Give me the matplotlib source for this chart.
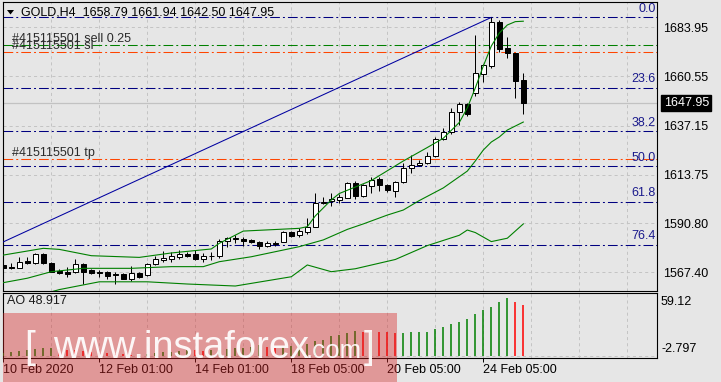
import matplotlib
matplotlib.use('Agg')
import matplotlib.pyplot as plt
import numpy as np
from matplotlib.patches import Rectangle, Polygon
from matplotlib.transforms import blended_transform_factory

plt.rcParams['font.family'] = ['Liberation Sans', 'DejaVu Sans']
plt.rcParams['lines.scale_dashes'] = False

# ---------------- data ----------------
symbol_header = "GOLD,H4  1658.79 1661.94 1642.50 1647.95"

opens = [1570.9, 1570.1, 1569.6, 1572.9, 1571.7, 1576.0, 1571.7, 1568.0, 1567.7, 1567.4,
         1571.2, 1568.3, 1567.6, 1567.7, 1566.75, 1566.75, 1564.1, 1567.1, 1566.1, 1571.2,
         1573.1, 1573.9, 1574.8, 1576.0, 1576.0, 1573.9, 1575.3, 1575.1, 1582.3, 1583.4,
         1583.2, 1582.6, 1582.0, 1580.0, 1581.2, 1582.0, 1586.7, 1584.9, 1586.7, 1589.1,
         1600.2, 1601.3, 1601.75, 1602.95, 1609.7, 1603.6, 1608.55, 1611.9, 1608.9, 1606.2,
         1610.2, 1616.8, 1618.25, 1619.2, 1622.8, 1630.6, 1634.1, 1643.4, 1647.2, 1652.45,
         1661.6, 1665.4, 1686.2, 1673.8, 1671.45, 1658.79]
highs = [1572.3, 1572.0, 1574.8, 1574.8, 1576.4, 1576.4, 1572.45, 1569.0, 1569.8, 1573.6,
         1571.7, 1568.8, 1568.5, 1568.0, 1567.4, 1566.9, 1570.4, 1567.4, 1572.0, 1575.3,
         1577.5, 1576.9, 1578.0, 1576.9, 1578.0, 1576.7, 1577.2, 1583.1, 1584.0, 1585.1,
         1584.0, 1583.4, 1582.4, 1582.3, 1582.3, 1587.0, 1587.0, 1588.6, 1593.1, 1605.2,
         1603.2, 1604.9, 1604.6, 1610.5, 1610.9, 1609.4, 1612.55, 1612.8, 1609.2, 1610.8,
         1619.2, 1623.1, 1620.75, 1624.4, 1631.55, 1635.8, 1645.6, 1648.5, 1648.0, 1680.15,
         1666.2, 1688.5, 1687.3, 1679.05, 1671.7, 1661.94]
lows = [1568.5, 1569.0, 1569.3, 1571.2, 1571.2, 1571.3, 1567.4, 1566.7, 1565.3, 1567.2,
        1561.7, 1566.6, 1565.3, 1564.2, 1561.7, 1564.1, 1563.3, 1564.8, 1565.6, 1570.9,
        1572.2, 1572.2, 1573.9, 1574.8, 1573.25, 1572.45, 1573.25, 1574.35, 1579.6, 1581.5,
        1579.9, 1581.2, 1578.3, 1579.3, 1579.9, 1581.8, 1584.3, 1584.3, 1585.6, 1588.8,
        1599.7, 1598.9, 1600.5, 1602.5, 1602.1, 1603.0, 1605.2, 1606.2, 1605.7, 1603.3,
        1610.0, 1614.4, 1617.9, 1618.7, 1622.3, 1630.3, 1633.1, 1637.5, 1641.7, 1651.3,
        1657.7, 1664.6, 1671.9, 1669.1, 1650.4, 1642.50]
closes = [1569.3, 1569.6, 1572.4, 1571.7, 1576.0, 1571.7, 1567.7, 1566.9, 1566.75, 1571.2,
          1567.7, 1567.1, 1567.1, 1565.8, 1566.1, 1564.2, 1566.9, 1565.3, 1571.2, 1573.6,
          1574.35, 1575.1, 1576.1, 1575.3, 1573.7, 1575.1, 1575.0, 1582.3, 1583.6, 1583.85,
          1582.3, 1581.8, 1579.9, 1581.2, 1580.7, 1586.55, 1584.65, 1587.0, 1589.1, 1600.2,
          1600.95, 1602.1, 1603.05, 1609.8, 1603.8, 1608.75, 1611.3, 1608.75, 1606.4, 1610.2,
          1616.8, 1618.25, 1619.3, 1622.8, 1630.7, 1634.1, 1643.4, 1647.2, 1642.6, 1661.95,
          1665.9, 1686.2, 1673.5, 1671.45, 1658.3, 1647.95]

# Bollinger bands (bar index, price)
bb_upper_idx = [0, 5, 7, 11, 17, 21, 26, 27, 30, 37, 38, 39, 41, 42, 46, 50, 53, 55, 57, 58,
                59, 60, 61, 62, 63, 64, 65]
bb_upper = [1575.6, 1578.8, 1578.3, 1575.3, 1574.5, 1576.6, 1578.5, 1581.2, 1587.0, 1588.3,
            1589.1, 1594.2, 1601.8, 1604.85, 1611.0, 1620.3, 1626.7, 1631.1, 1638.6, 1645.5,
            1655.0, 1665.4, 1674.9, 1681.1, 1684.9, 1686.5, 1686.7]
bb_mid_idx = [0, 3, 6, 10, 16, 21, 25, 27, 31, 34, 37, 40, 43, 45, 48, 50, 52, 55, 58, 59,
              60, 61, 62, 63, 64, 65]
bb_mid = [1562.5, 1564.6, 1567.7, 1569.3, 1569.3, 1570.1, 1570.1, 1572.45, 1574.8, 1577.2,
          1579.6, 1582.8, 1587.8, 1590.4, 1594.6, 1597.0, 1601.5, 1607.5, 1615.5, 1620.3,
          1625.5, 1629.3, 1631.7, 1635.0, 1636.9, 1638.8]
bb_low_idx = [5, 7, 12, 18, 23, 29, 36, 38, 41, 44, 49, 53, 57, 58, 59, 61, 63, 65]
bb_low = [1557.1, 1559.2, 1562.9, 1562.9, 1561.85, 1560.9, 1565.3, 1570.9, 1567.7, 1569.1,
          1573.5, 1580.1, 1585.0, 1587.5, 1586.3, 1582.0, 1583.6, 1590.4]

# Awesome oscillator
ao = [2.3, 3.3, 4.9, 5.5, 6.5, 7.0, 7.3, 6.8, 6.0, 5.3,
      4.3, 3.6, 3.0, 2.4, 1.8, 1.3, 1.0, 0.9, 1.2, 2.6,
      3.2, 3.4, 4.3, 5.6, 5.2, 5.0, 5.7, 5.9, 6.6, 7.0,
      7.9, 8.5, 10.1, 8.9, 7.2, 8.8, 9.6, 10.6, 11.0, 13.9,
      15.5, 18.7, 20.3, 22.5, 23.6, 23.3, 23.5, 23.2, 22.7, 21.8,
      22.0, 22.9, 23.0, 23.4, 26.0, 28.2, 30.4, 33.1, 36.0, 40.9,
      44.1, 47.5, 52.5, 56.4, 52.5, 48.917]
ao_label = "AO 48.917"
ao_scale_labels = ["59.12", "-2.797"]

# Fibonacci retracement
fib_low_idx, fib_low = -20, 1546.9
fib_high_idx, fib_high = 61, 1688.5
fib_levels = [0.0, 23.6, 38.2, 50.0, 61.8, 76.4]

# Orders
order_lines = [("#415115501 sell 0.25", 1675.4, '#008000'),
               ("#415115501 sl", 1671.9, '#FF4500'),
               ("#415115501 tp", 1621.1, '#FF4500')]

price_ticks = [1567.40, 1590.80, 1613.75, 1637.15, 1660.55, 1683.95]
price_tick_labels = ["1567.40", "1590.80", "1613.75", "1637.15", "1660.55", "1683.95"]
time_tick_idx = [0, 12, 24, 36, 48, 60]
time_tick_labels = ["10 Feb 2020", "12 Feb 01:00", "14 Feb 01:00", "18 Feb 05:00",
                    "20 Feb 05:00", "24 Feb 05:00"]

# ---------------- layout ----------------
W, H = 721, 382
BG = '#E6E6E6'
GRID = '#C4C4C4'
NAVY = '#000080'
fig = plt.figure(figsize=(W / 100, H / 100), dpi=100, facecolor=BG)


def fx(px):
    return px / W


def fy(py):
    return 1 - py / H


ax = fig.add_axes([fx(3), fy(291), fx(657.3) - fx(3), fy(2) - fy(291)])
ax2 = fig.add_axes([fx(3), fy(357.7), fx(657.3) - fx(3), fy(293.3) - fy(357.7)])
for a in (ax, ax2):
    a.set_facecolor(BG)
    for s in a.spines.values():
        s.set_color('black')
        s.set_linewidth(0.8)
    a.set_xlim(-0.04, 81.75)

ax.set_ylim(1558.53, 1695.83)
ax2.set_ylim(-1.95, 60.7)

dash_grid = (0, (2.2, 2.2))
dashdot = (0, (7.0, 2.2, 1.4, 2.2))

# grid
for k in range(1, 14):
    ax.axvline(6 * k, color=GRID, lw=0.72, ls=dash_grid, zorder=0)
    ax2.axvline(6 * k, color=GRID, lw=0.72, ls=dash_grid, zorder=0)
for p in price_ticks:
    ax.axhline(p, color=GRID, lw=0.72, ls=dash_grid, zorder=0)
ax2.axhline(0, color=GRID, lw=0.72, ls=dash_grid, zorder=0)

# bid line
ax.axhline(closes[-1], color='#C2C2C2', lw=0.9, zorder=1)

# fib levels
rng = fib_high - fib_low
for lv in fib_levels:
    p = fib_high - lv / 100.0 * rng
    ax.axhline(p, color=NAVY, lw=0.75, ls=dashdot, zorder=2)
    ax.annotate(f"{lv:.1f}", xy=(81.55, p), xytext=(0, 2.0), textcoords='offset points',
                ha='right', va='bottom', color='#1A1A8C', fontsize=9, zorder=6)
ax.plot([fib_low_idx, fib_high_idx], [fib_low, fib_high], color='#0000A0', lw=0.75, zorder=3)

# order lines
for txt, p, col in order_lines:
    ax.axhline(p, color=col, lw=0.75, ls=dashdot, zorder=2)
    ax.annotate(txt, xy=(1.1, p), xytext=(0, 0.3), textcoords='offset points',
                ha='left', va='bottom', color='#2A2A2A', fontsize=9, zorder=6)

# candles
idx = np.arange(len(closes))
o = np.array(opens); h = np.array(highs); l = np.array(lows); c = np.array(closes)
up = c >= o
ax.vlines(idx, l, h, color='black', lw=0.72, zorder=4)
ax.bar(idx, np.maximum(np.abs(c - o), 0.05), bottom=np.minimum(o, c), width=0.62,
       color=np.where(up, 'white', 'black'), edgecolor='black', linewidth=0.72, zorder=5)

# bands
for xi, yv in ((bb_upper_idx, bb_upper), (bb_mid_idx, bb_mid), (bb_low_idx, bb_low)):
    ax.plot(xi, yv, color='#008000', lw=0.8, zorder=6)

# price axis
ax.yaxis.tick_right()
ax.set_yticks(price_ticks)
ax.set_yticklabels(price_tick_labels)
ax.tick_params(axis='y', length=0, pad=4.3, labelsize=9, colors='black')
ax.set_xticks([])

# price box
trans = blended_transform_factory(ax.transAxes, ax.transData)
ax.annotate(f"{closes[-1]:.2f}", xy=(1.0, closes[-1]), xycoords=trans, xytext=(4.6, 0),
            textcoords='offset points', ha='left', va='center', color='white', fontsize=9,
            bbox=dict(boxstyle='square,pad=0.18', fc='black', ec='black'), zorder=10,
            annotation_clip=False)

# AO
prev = np.concatenate([[-np.inf], np.array(ao[:-1])])
ao_cols = np.where(np.array(ao) > prev, '#008000', '#FF0000')
ax2.vlines(idx, 0, ao, colors=ao_cols, lw=1.1, zorder=3)
ax2.set_yticks([])
ax2.set_xticks(time_tick_idx)
ax2.set_xticklabels(time_tick_labels, ha='left')
ax2.tick_params(axis='x', length=3, pad=1.5, labelsize=9, colors='black', width=0.7)

fig.text(fx(7), fy(301), ao_label, ha='left', va='center', fontsize=9, color='#1A1A1A')
fig.text(fx(661), fy(302), ao_scale_labels[0], ha='left', va='center', fontsize=9, color='black')
fig.text(fx(661), fy(349), ao_scale_labels[1], ha='left', va='center', fontsize=9, color='black')

# header
fig.add_artist(Polygon([(fx(7), fy(10)), (fx(14), fy(10)), (fx(10.5), fy(14.5))],
                       closed=True, transform=fig.transFigure, fc='black', ec='none'))
fig.text(fx(21), fy(12.7), symbol_header, ha='left', va='center', fontsize=9, color='black')

# watermark
fig.add_artist(Rectangle((fx(3), fy(382)), fx(397) - fx(3), fy(313) - fy(382),
                         transform=fig.transFigure, fc=(0.845, 0.14, 0.14), alpha=0.4,
                         ec='none', zorder=20))
renderer = fig.canvas.get_renderer()


def fit_text(s, x0, x1, ybase, size0=30):
    t = fig.text(fx(x0), fy(ybase), s, ha='left', va='baseline', fontsize=size0,
                 color='white', alpha=0.92, zorder=21)
    wdt = t.get_window_extent(renderer).width
    t.set_fontsize(size0 * (x1 - x0) / wdt)
    return t


fit_text("www.instaforex", 53, 308, 358)
fit_text(".com", 306, 362, 358)
fig.text(fx(24), fy(358), "[", ha='left', va='baseline', fontsize=28, color='white',
         alpha=0.92, zorder=21)
fig.text(fx(364), fy(358), "]", ha='left', va='baseline', fontsize=28, color='white',
         alpha=0.92, zorder=21)

fig.savefig('out.png', dpi=100, facecolor=BG)
